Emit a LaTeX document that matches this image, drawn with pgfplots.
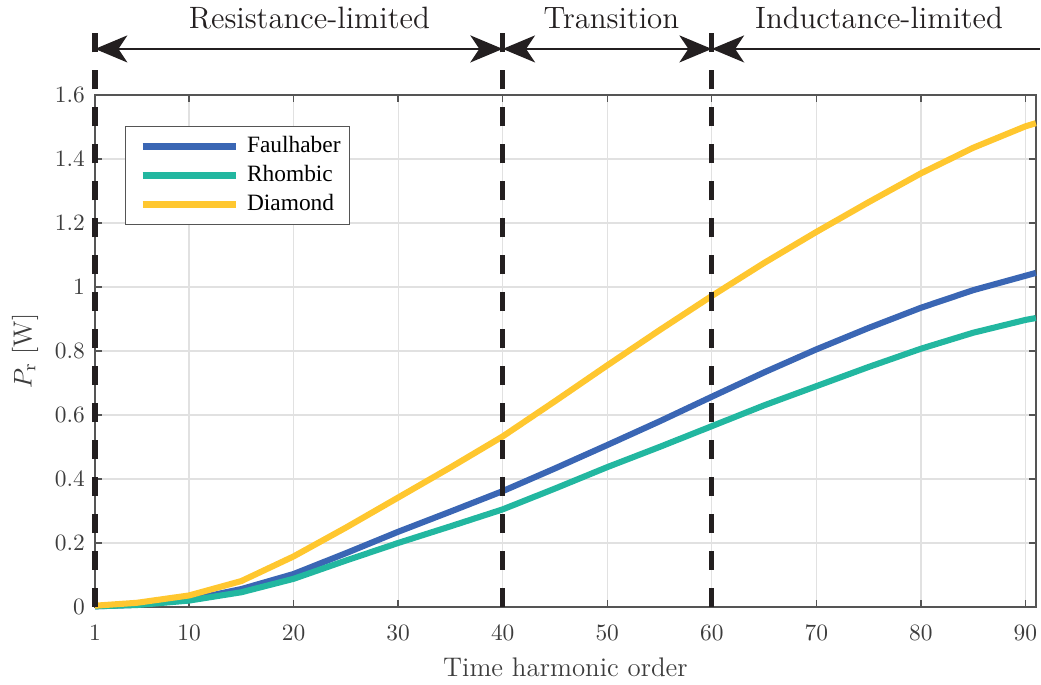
\documentclass[border=0pt]{standalone}
\usepackage{fontspec}
\usepackage{pgfplots}
\pgfplotsset{compat=1.18}
\usetikzlibrary{arrows.meta,calc}
\newfontfamily\legfont{Liberation Serif}

\definecolor{cFaul}{HTML}{3A66B4}
\definecolor{cRhomb}{HTML}{22B7A0}
\definecolor{cDia}{HTML}{FFC72F}
\definecolor{axgray}{HTML}{555555}
\definecolor{txtgray}{HTML}{3C3C3C}
\definecolor{gridgray}{HTML}{E1E1E1}
\definecolor{regline}{HTML}{231F20}

% rotor loss per harmonic order
\pgfplotstableread{
n    faul   rhomb  dia
1    0.002  0.002  0.004
5    0.007  0.006  0.013
10   0.022  0.020  0.036
15   0.056  0.046  0.081
20   0.103  0.088  0.158
25   0.168  0.145  0.248
30   0.235  0.200  0.342
35   0.298  0.252  0.436
40   0.362  0.305  0.533
45   0.433  0.370  0.643
50   0.506  0.437  0.755
55   0.580  0.500  0.865
60   0.657  0.565  0.972
65   0.733  0.630  1.075
70   0.805  0.690  1.172
75   0.872  0.750  1.265
80   0.935  0.807  1.355
85   0.990  0.857  1.435
90   1.035  0.897  1.502
91   1.044  0.903  1.512
}\losses

\tikzset{regarrow/.tip={Stealth[length=13.8pt,width=11.5pt,inset=3.8pt]}}
% legend entry text with its spacing
\newcommand\legentry[1]{\hspace*{1.7pt}#1\hspace*{-3.8pt}}

\begin{document}
\begin{tikzpicture}
\begin{axis}[
  name=ax,
  scale only axis,
  width=402.1pt, height=218.8pt,
  xmin=1, xmax=91, ymin=0, ymax=1.6,
  xtick={1,10,20,30,40,50,60,70,80,90},
  ytick={0,0.2,0.4,0.6,0.8,1,1.2,1.4,1.6},
  xtick pos=both, ytick pos=both,
  tick align=inside, major tick length=3pt,
  grid=major,
  major grid style={gridgray, line width=0.55pt},
  axis line style={axgray, line width=0.65pt},
  tick style={axgray, line width=0.6pt},
  ticklabel style={font=\fontsize{10}{12}\selectfont, text=txtgray},
  xticklabel style={yshift=-4.3pt},
  yticklabel style={xshift=-0.8pt},
  xlabel={Time harmonic order},
  xlabel style={font=\fontsize{11.5}{13}\selectfont, text=txtgray,
    at={(axis description cs:0.5,0)}, anchor=base, yshift=-29.9pt},
  ylabel={$P_{\mathrm{r}}$ [W]},
  ylabel style={font=\fontsize{11.2}{13}\selectfont, text=txtgray,
    at={(axis description cs:-0.0744,0.5)}, anchor=center},
  clip=false,
  legend cell align=left,
  legend image code/.code={\draw[#1] (0pt,0pt) -- (40pt,0pt);},
  legend style={at={(axis description cs:0.0318,0.9397)}, anchor=north west,
    draw=axgray, line width=0.6pt, fill=white,
    font=\legfont\fontsize{10}{12}\selectfont, text=black,
    inner xsep=6pt, inner ysep=2.3pt, row sep=0pt,
    nodes={inner ysep=1.5pt, text height=7.2pt, text depth=2.2pt}},
  legend style={nodes={inner xsep=1.6pt}},
]
\addplot[cFaul, line width=2.6pt, line join=round] table[x=n, y=faul] {\losses};
\addlegendentry{\legentry{Faulhaber}}
\addplot[cRhomb, line width=2.6pt, line join=round] table[x=n, y=rhomb] {\losses};
\addlegendentry{\legentry{Rhombic}}
\addplot[cDia, line width=2.6pt, line join=round] table[x=n, y=dia] {\losses};
\addlegendentry{\legentry{Diamond}}

% region boundaries
\foreach \xb in {1,40,60}{
  \edef\tmp{\noexpand\draw[regline, line width=2.2pt, dash pattern=on 8.1pt off 7.7pt]
    (axis cs:\xb,0) -- (axis cs:\xb,1.803);}\tmp
}
% region arrows
\draw[regline, line width=1.2pt, regarrow-regarrow] (axis cs:1,1.744) -- (axis cs:40,1.744);
\draw[regline, line width=1.2pt, regarrow-regarrow] (axis cs:40,1.744) -- (axis cs:60,1.744);
\draw[regline, line width=1.2pt, regarrow-] (axis cs:60,1.744) -- (axis cs:91.4,1.744);

\node[anchor=base, font=\fontsize{13.2}{15}\selectfont, text=regline] at (axis cs:21.5,1.809) {Resistance-limited};
\node[anchor=base, font=\fontsize{13.2}{15}\selectfont, text=regline] at (axis cs:50.4,1.809) {Transition};
\node[anchor=base, font=\fontsize{13.2}{15}\selectfont, text=regline] at (axis cs:76.0,1.809) {Inductance-limited};
\end{axis}
\pgfresetboundingbox
\path[use as bounding box] ($(ax.south west)+(-40.6pt,-33.3pt)$) rectangle ($(ax.south west)+(404.3pt,259.4pt)$);
\end{tikzpicture}
\end{document}
